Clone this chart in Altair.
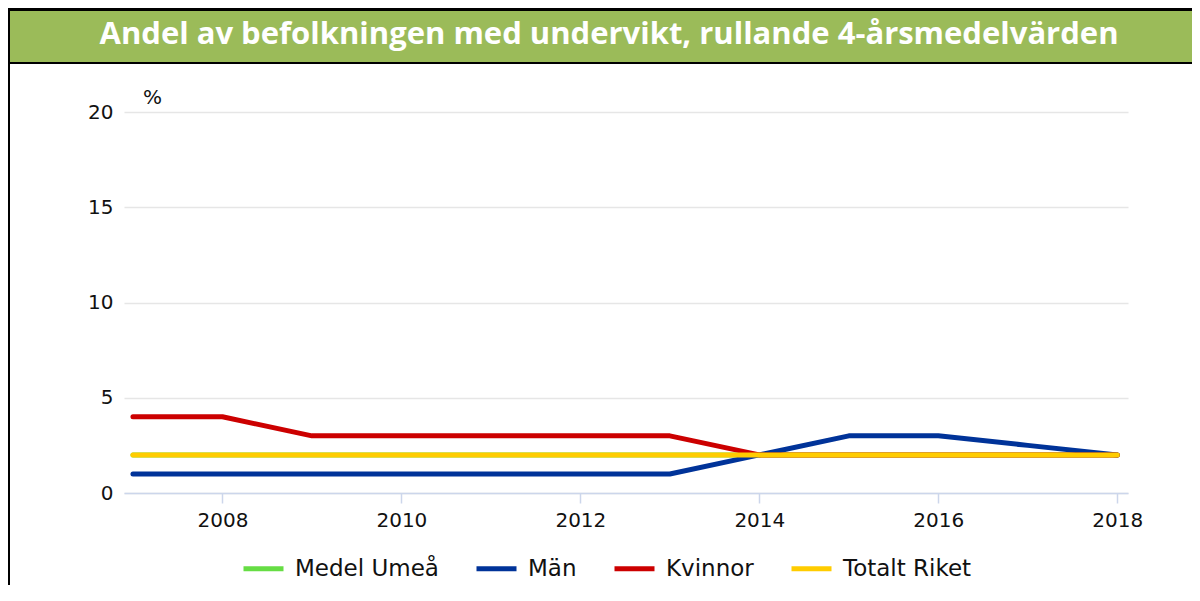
import altair as alt
import pandas as pd

years = list(range(2007, 2019))
medel_umea = [2, 2, 2, 2, 2, 2, 2, 2, 2, 2, 2, 2]
man = [1, 1, 1, 1, 1, 1, 1, 2, 3, 3, 2.5, 2]
kvinnor = [4, 4, 3, 3, 3, 3, 3, 2, 2, 2, 2, 2]
totalt_riket = [2, 2, 2, 2, 2, 2, 2, 2, 2, 2, 2, 2]

series_names = ["Medel Umeå", "Män", "Kvinnor", "Totalt Riket"]
series_values = [medel_umea, man, kvinnor, totalt_riket]
series_colors = ["#66dd44", "#003399", "#cc0000", "#ffcc00"]

title_text = "Andel av befolkningen med undervikt, rullande 4-årsmedelvärden"
y_ticks = [0, 5, 10, 15, 20]
x_ticks = [2008, 2010, 2012, 2014, 2016, 2018]

rows = []
for name, vals in zip(series_names, series_values):
    for yr, v in zip(years, vals):
        rows.append({"År": yr, "Värde": v, "Serie": name})
df = pd.DataFrame(rows)

W, H = 1004, 381
PAD_L, PAD_T, PAD_R, PAD_B = 116, 104, 64, 92

color = alt.Color(
    "Serie:N",
    scale=alt.Scale(domain=series_names, range=series_colors),
    legend=alt.Legend(
        title=None,
        orient="none",
        legendX=117,
        legendY=434,
        direction="horizontal",
        columns=4,
        symbolType="stroke",
        symbolSize=1600,
        symbolStrokeWidth=5,
        labelFont="DejaVu Sans",
        labelFontSize=23,
        labelColor="#111111",
        labelOffset=9,
        columnPadding=27,
        padding=0,
    ),
)

x_enc = alt.X(
    "År:Q",
    scale=alt.Scale(domain=[2006.9, 2018.12], nice=False, zero=False),
    axis=alt.Axis(
        values=x_ticks,
        format="d",
        title=None,
        grid=False,
        domainColor="#ccd6eb",
        domainWidth=1.5,
        tickColor="#ccd6eb",
        tickWidth=1.5,
        tickSize=10,
        labelFont="DejaVu Sans",
        labelFontSize=20,
        labelColor="#111111",
        labelPadding=7,
    ),
)
y_enc = alt.Y(
    "Värde:Q",
    scale=alt.Scale(domain=[0, 20], nice=False),
    axis=alt.Axis(
        values=y_ticks,
        title="%",
        titleAngle=0,
        titleX=28,
        titleY=-15,
        titleAlign="center",
        titleBaseline="middle",
        titleFont="DejaVu Sans",
        titleFontSize=20,
        titleFontWeight="normal",
        titleColor="#111111",
        grid=True,
        gridColor="#e6e6e6",
        gridWidth=1.5,
        domain=False,
        ticks=False,
        labelFont="DejaVu Sans",
        labelFontSize=20,
        labelColor="#111111",
        labelPadding=11,
    ),
)

base = alt.Chart(df)
line_layers = []
for name in series_names:
    line_layers.append(
        base.transform_filter(alt.datum.Serie == name)
        .mark_line(strokeWidth=5, strokeCap="round", strokeJoin="round")
        .encode(x=x_enc, y=y_enc, color=color)
    )

deco = pd.DataFrame({"t": [title_text]})
frame = alt.Chart(deco).mark_rect(color="#000000").encode(
    x=alt.value(-PAD_L), x2=alt.value(W + PAD_R),
    y=alt.value(-PAD_T), y2=alt.value(-48),
)
left_border = alt.Chart(deco).mark_rect(color="#000000").encode(
    x=alt.value(-PAD_L), x2=alt.value(-PAD_L + 2),
    y=alt.value(-PAD_T), y2=alt.value(H + PAD_B),
)
green = alt.Chart(deco).mark_rect(color="#9bbb59").encode(
    x=alt.value(-PAD_L + 2), x2=alt.value(W + PAD_R),
    y=alt.value(-101), y2=alt.value(-50),
)
title = alt.Chart(deco).mark_text(
    font="Open Sans", fontSize=31, fontWeight="bold", color="white",
    align="center", baseline="middle",
).encode(x=alt.value(485), y=alt.value(-77), text="t:N")

chart = alt.layer(frame, left_border, green, title, *line_layers).properties(
    width=W,
    height=H,
    autosize=alt.AutoSizeParams(type="none"),
    padding={"left": PAD_L, "top": PAD_T, "right": PAD_R, "bottom": PAD_B},
).configure(background="white").configure_view(stroke=None)

chart.save("out.html", embed_options={"renderer": "svg", "actions": False})
